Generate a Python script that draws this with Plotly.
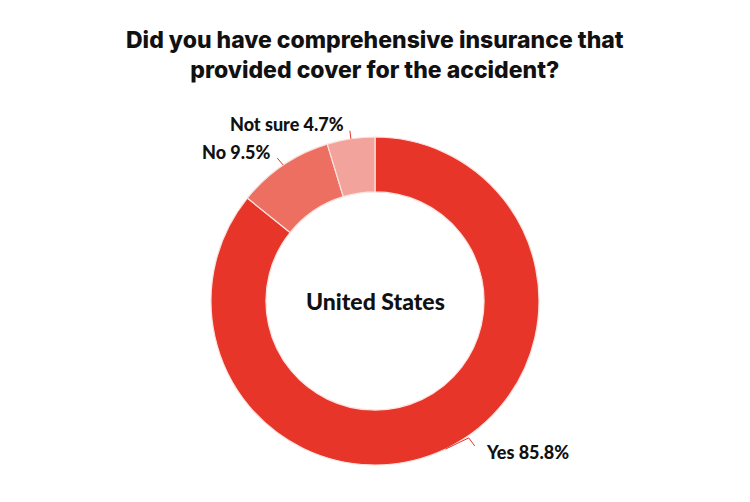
import math
import plotly.graph_objects as go

labels = ["Yes", "No", "Not sure"]
values = [85.8, 9.5, 4.7]
colors = ["#e8352a", "#ed6f62", "#f2a49c"]
title = "Did you have comprehensive insurance that<br>provided cover for the accident?"
center_text = "United States"

W, H = 750, 502
CX, CY, R = 375, 301, 164  # pixel geometry of donut


def px(x, y):
    return x / W, 1 - y / H


fig = go.Figure(go.Pie(
    labels=labels, values=values, sort=False, direction="clockwise", rotation=0,
    hole=0.665, marker=dict(colors=colors, line=dict(color="#fbe3df", width=1.2)),
    textinfo="none", hoverinfo="label+percent", showlegend=False,
    domain=dict(x=[(CX - R) / W, (CX + R) / W], y=[(H - CY - R) / H, (H - CY + R) / H]),
))

total = sum(values)
cum = 0
shapes = []
annotations = []
label_cfg = {
    "Yes": dict(dx=(23, -11), dx2=(29, -3), tx=(484, 452), anchor="left"),
    "No": dict(dx=(-6, -7), tx=(272, 152), anchor="right"),
    "Not sure": dict(dx=(-1, -8), tx=(346, 124), anchor="right"),
}
for lab, v in zip(labels, values):
    mid = (cum + v / 2) / total * 2 * math.pi
    cum += v
    ex = CX + R * math.sin(mid)
    ey = CY - R * math.cos(mid)
    cfg = label_cfg[lab]
    pts = [(ex, ey), (ex + cfg["dx"][0], ey + cfg["dx"][1])]
    if "dx2" in cfg:
        pts.append((ex + cfg["dx2"][0], ey + cfg["dx2"][1]))
    path = "M " + " L ".join(f"{px(a, b)[0]:.5f},{px(a, b)[1]:.5f}" for a, b in pts)
    shapes.append(dict(type="path", path=path, xref="paper", yref="paper",
                       line=dict(color="#e8352a", width=1)))
    tx, ty = px(*cfg["tx"])
    annotations.append(dict(text=f"{lab} {v}%", x=tx, y=ty, xref="paper", yref="paper",
                            showarrow=False, xanchor=cfg["anchor"], yanchor="middle",
                            font=dict(family="Lato", size=18, color="#111111", weight=900)))

cx, cy = px(CX, CY)
annotations.append(dict(text=center_text, x=cx, y=cy, xref="paper", yref="paper",
                        showarrow=False, xanchor="center", yanchor="middle",
                        font=dict(family="Lato", size=23, color="#111111", weight=900)))
tx, ty = px(375, 55)
annotations.append(dict(text=title, x=tx, y=ty, xref="paper", yref="paper",
                        showarrow=False, xanchor="center", yanchor="middle",
                        font=dict(family="Inter", size=23, color="#111111", weight=800)))

fig.update_layout(width=W, height=H, margin=dict(l=0, r=0, t=0, b=0),
                  paper_bgcolor="white", plot_bgcolor="white",
                  shapes=shapes, annotations=annotations)
fig.write_html("out.html")
